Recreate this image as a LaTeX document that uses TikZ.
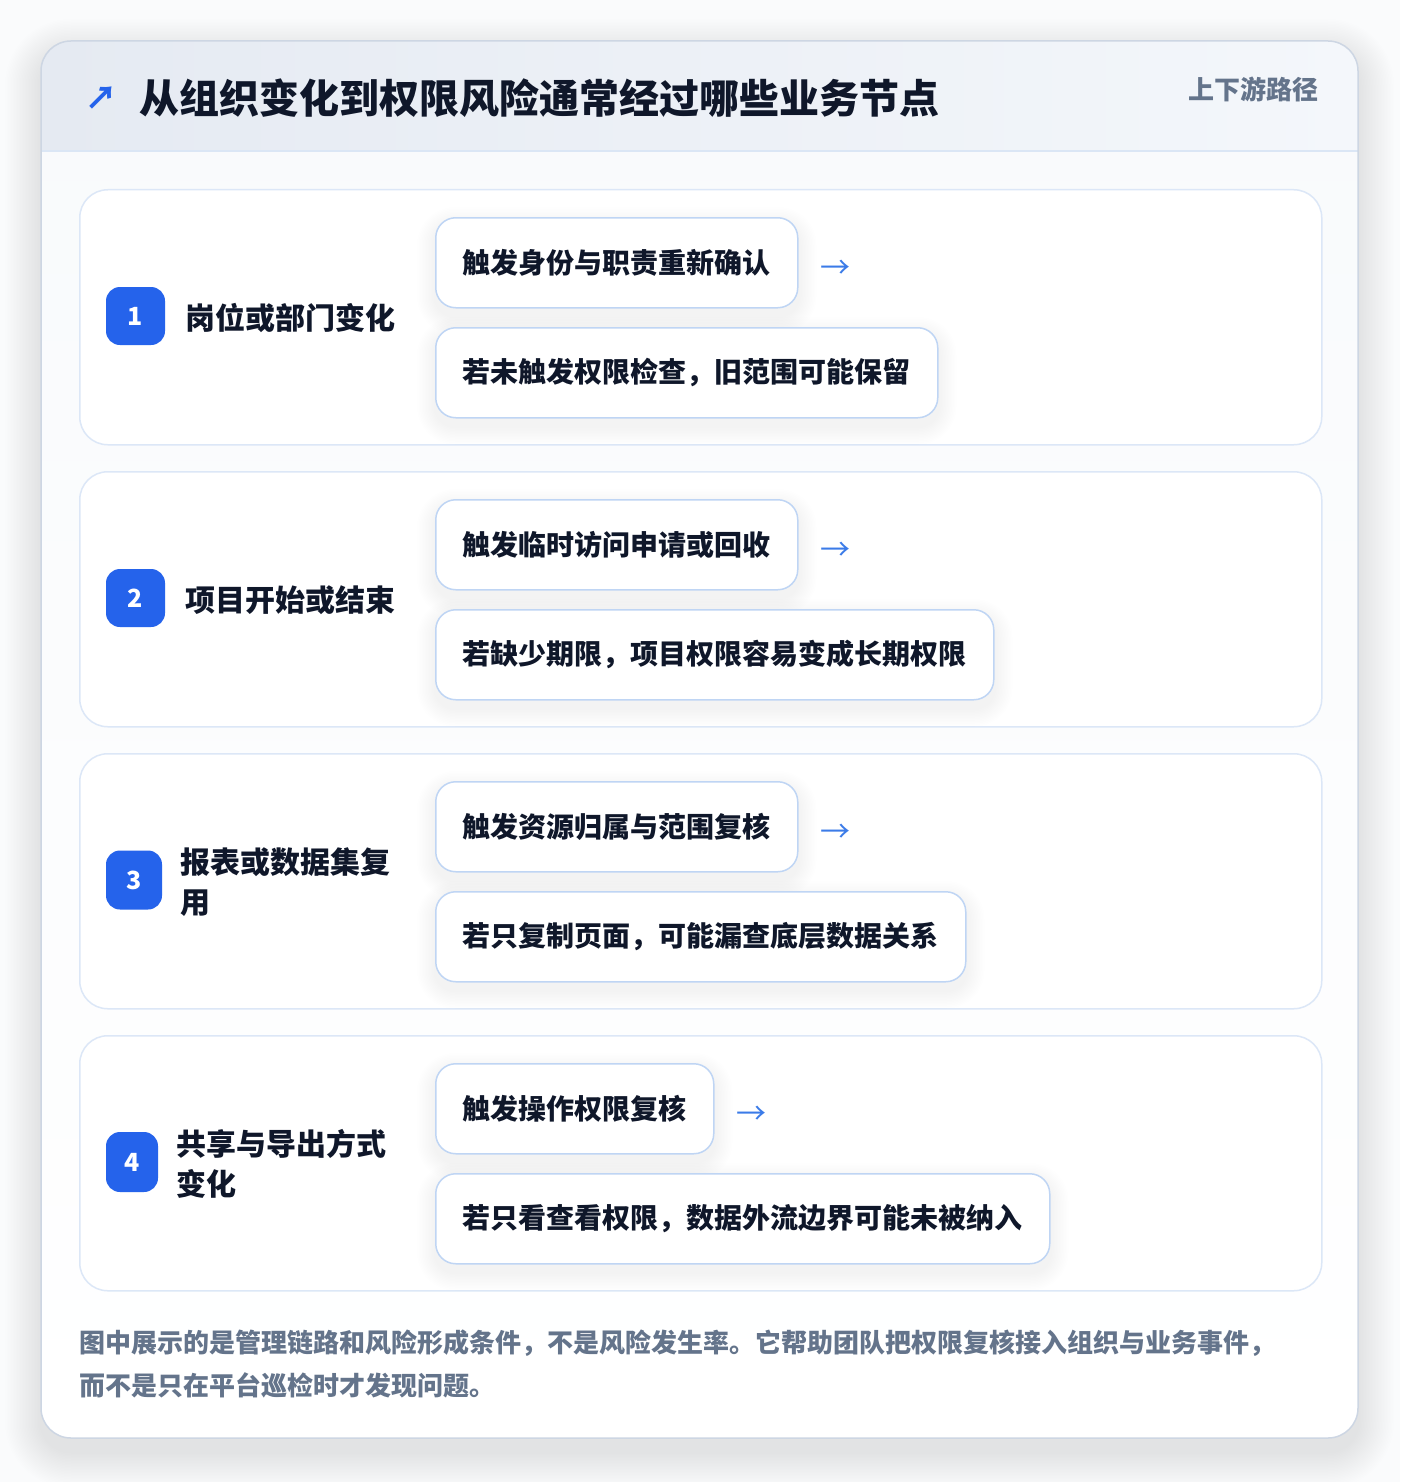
\documentclass[tikz,border=0pt]{standalone}
\usepackage{fontspec}
\setmainfont{Noto Sans CJK SC}
\usetikzlibrary{positioning}
\pgfdeclarelayer{bg}
\pgfdeclarelayer{shadowlayer}
\pgfsetlayers{bg,shadowlayer,main}
\definecolor{ink}{HTML}{0F172A}
\definecolor{badgeblue}{HTML}{2563EB}
\definecolor{arrowblue}{HTML}{3B7BE8}
\definecolor{mutedgray}{HTML}{64748B}
\definecolor{rowborder}{HTML}{DCE7F7}
\definecolor{pillborder}{HTML}{BFD5F4}
\definecolor{hdrL}{HTML}{E5EAF2}
\definecolor{hdrR}{HTML}{F4F7FB}
\definecolor{hdrline}{HTML}{DBE6F5}
\definecolor{cardborder}{HTML}{CDD6E3}
\definecolor{pagebg}{HTML}{FAFBFC}
\definecolor{bodytop}{HTML}{F8FAFC}
\definecolor{shadowcol}{HTML}{1E293B}
\tikzset{
  rowbox/.style={draw=rowborder, fill=white, line width=1.5pt, rounded corners=28pt,
    minimum width=1242pt, minimum height=255pt, anchor=north west, inner sep=0pt},
  badge/.style={fill=badgeblue, rounded corners=14pt, text=white, inner sep=0pt,
    font=\bfseries\fontsize{25}{28}\selectfont},
  lbl/.style={text=ink, anchor=west, inner sep=0pt, align=left,
    font=\bfseries\fontsize{30}{40}\selectfont},
  pill/.style={draw=pillborder, fill=white, line width=1.5pt, rounded corners=20pt,
    minimum height=90pt, inner xsep=27pt, inner ysep=0pt, anchor=north west, text=ink,
    font=\bfseries\fontsize{28}{34}\selectfont},
  flowarrow/.style={text=arrowblue, inner sep=0pt, anchor=west,
    font=\fontsize{30}{34}\selectfont},
  note/.style={text=mutedgray, anchor=west, inner sep=0pt,
    font=\bfseries\fontsize{26}{42}\selectfont},
}
\newcommand{\pillshadow}[1]{%
  \foreach \k in {1.5,3,...,18}{%
    \fill[shadowcol, opacity=0.005, rounded corners=20pt+\k pt]
      ([xshift=-\k pt, yshift=\k pt-8pt]#1.north west) rectangle
      ([xshift=\k pt, yshift=-\k pt-8pt]#1.south east);
  }}
\begin{document}
\begin{tikzpicture}[x=1pt,y=1pt]
\useasboundingbox (0,0) rectangle (1400,-1482);
\begin{pgfonlayer}{bg}
\fill[pagebg] (0,0) rectangle (1400,-1482);
% card shadow
\foreach \k in {1.5,3,...,36}{
  \fill[shadowcol, opacity=0.0035, rounded corners=30pt+\k pt]
    (41-\k,-41+\k-14) rectangle (1358+\k,-1438-\k-14);
}
% card
\shade[top color=bodytop, bottom color=white, rounded corners=30pt] (41,-41) rectangle (1358,-1438);
\begin{scope}
\clip[rounded corners=30pt] (41,-41) rectangle (1358,-1438);
\shade[left color=hdrL, right color=hdrR] (41,-41) rectangle (1358,-151);
\end{scope}
\draw[hdrline, line width=1.5pt] (41,-151) -- (1358,-151);
\draw[cardborder, line width=1.5pt, rounded corners=30pt] (41,-41) rectangle (1358,-1438);
% rows
\node[rowbox] (r1) at (79,-189) {};
\node[rowbox] (r2) at (79,-471) {};
\node[rowbox] (r3) at (79,-753) {};
\node[rowbox] (r4) at (79,-1035) {};
\end{pgfonlayer}

% header
\node[text=badgeblue, inner sep=0pt, font=\bfseries\fontsize{32}{34}\selectfont] (icon) at (101,-98) {↗};
\node[text=ink, anchor=west, inner sep=0pt, font=\bfseries\fontsize{40}{48}\selectfont] (title) at (139,-98) {从组织变化到权限风险通常经过哪些业务节点};
\node[text=mutedgray, anchor=east, inner sep=0pt, font=\bfseries\fontsize{26}{30}\selectfont] (tag) at (1319,-89) {上下游路径};

% row 1
\node[badge, minimum width=59pt, minimum height=58pt] (b1) at (135.5,-316) {1};
\node[lbl] (l1) at (185,-318) {岗位或部门变化};
\node[pill] (p1a) at (435,-217) {触发身份与职责重新确认};
\node[pill] (p1b) at (435,-327) {若未触发权限检查，旧范围可能保留};
\node[flowarrow] (a1) at ([xshift=22pt,yshift=-7pt]p1a.east) {→};

% row 2
\node[badge, minimum width=59pt, minimum height=58pt] (b2) at (135.5,-598) {2};
\node[lbl] (l2) at (185,-600) {项目开始或结束};
\node[pill] (p2a) at (435,-499) {触发临时访问申请或回收};
\node[pill] (p2b) at (435,-609) {若缺少期限，项目权限容易变成长期权限};
\node[flowarrow] (a2) at ([xshift=22pt,yshift=-7pt]p2a.east) {→};

% row 3
\node[badge, minimum width=56pt, minimum height=59pt] (b3) at (134,-880) {3};
\node[lbl] (l3) at (180,-882) {报表或数据集复\\用};
\node[pill] (p3a) at (435,-781) {触发资源归属与范围复核};
\node[pill] (p3b) at (435,-891) {若只复制页面，可能漏查底层数据关系};
\node[flowarrow] (a3) at ([xshift=22pt,yshift=-7pt]p3a.east) {→};

% row 4
\node[badge, minimum width=52pt, minimum height=60pt] (b4) at (132,-1162) {4};
\node[lbl] (l4) at (176,-1164) {共享与导出方式\\变化};
\node[pill] (p4a) at (435,-1063) {触发操作权限复核};
\node[pill] (p4b) at (435,-1173) {若只看查看权限，数据外流边界可能未被纳入};
\node[flowarrow] (a4) at ([xshift=22pt,yshift=-7pt]p4a.east) {→};

\begin{pgfonlayer}{shadowlayer}
\pillshadow{p1a}\pillshadow{p1b}
\pillshadow{p2a}\pillshadow{p2b}
\pillshadow{p3a}\pillshadow{p3b}
\pillshadow{p4a}\pillshadow{p4b}
\end{pgfonlayer}

% note
\node[note] (n1) at (79,-1343) {图中展示的是管理链路和风险形成条件，不是风险发生率。它帮助团队把权限复核接入组织与业务事件，};
\node[note] (n2) at (79,-1385) {而不是只在平台巡检时才发现问题。};
\end{tikzpicture}
\end{document}
